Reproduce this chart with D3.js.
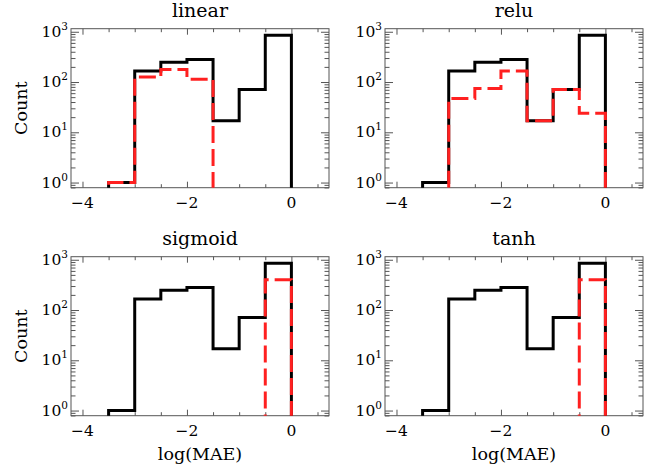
<!DOCTYPE html>
<html><head><meta charset="utf-8">
<script src="https://cdn.jsdelivr.net/npm/d3@7"></script>
<style>body{margin:0;background:#fff} text{font-family:"DejaVu Serif",serif;fill:#000}</style>
</head><body><svg id="c" width="657" height="468"></svg>
<script>
// ---- data ----
const binEdges = [-3.5, -3, -2.5, -2, -1.5, -1, -0.5, 0];
const allCounts = [1, 166, 246, 279, 17, 71, 850];
const panelTitles = ["linear", "relu", "sigmoid", "tanh"];
const linearCounts = [1, 126, 177, 113, 0, 0, 0];
const reluCounts = [0, 47, 74, 166, 17, 71, 24];
const sigmoidCounts = [0, 0, 0, 0, 0, 0, 400];
const tanhCounts = [0, 0, 0, 0, 0, 0, 400];
const subsetCounts = [linearCounts, reluCounts, sigmoidCounts, tanhCounts];
const xMajorTicks = [-4, -2, 0];
const xMinorTicks = [-3.5, -3, -2.5, -1.5, -1, -0.5, 0.5];
const yMajorTicks = [1, 10, 100, 1000];
const yExponents = ["0", "1", "2", "3"];
const xLabel = "log(MAE)", yLabel = "Count";

// ---- layout ----
const svg = d3.select("#c");
const panels = [
  {x0: 71, x1: 329, y0: 28.7, y1: 187.7},
  {x0: 385, x1: 643, y0: 28.7, y1: 187.7},
  {x0: 71, x1: 329, y0: 256.7, y1: 415.7},
  {x0: 385, x1: 643, y0: 256.7, y1: 415.7}
];
const frameColor = "#555";

panels.forEach((p, k) => {
  const x = d3.scaleLinear().domain([-4.22, 0.72]).range([p.x0, p.x1]);
  const y = d3.scaleLog().domain([0.79, 1150]).range([p.y1, p.y0]);
  const g = svg.append("g");

  const cid = "clip" + k;
  svg.append("clipPath").attr("id", cid).append("rect")
    .attr("x", p.x0).attr("y", p.y0).attr("width", p.x1 - p.x0).attr("height", p.y1 - p.y0);

  const yMinor = y.ticks().filter(v => !yMajorTicks.includes(v));
  const mk = (gen, tr) => {
    const a = g.append("g").attr("transform", tr).call(gen);
    a.select(".domain").remove();
    a.selectAll("line").attr("stroke", frameColor);
    return a;
  };
  mk(d3.axisBottom(x).tickValues(xMajorTicks).tickSize(-6).tickFormat(""), `translate(0,${p.y1})`);
  mk(d3.axisBottom(x).tickValues(xMinorTicks).tickSize(-3.5).tickFormat(""), `translate(0,${p.y1})`);
  mk(d3.axisTop(x).tickValues(xMajorTicks).tickSize(-6).tickFormat(""), `translate(0,${p.y0})`);
  mk(d3.axisTop(x).tickValues(xMinorTicks).tickSize(-3.5).tickFormat(""), `translate(0,${p.y0})`);
  mk(d3.axisLeft(y).tickValues(yMajorTicks).tickSize(-8).tickFormat(""), `translate(${p.x0},0)`);
  mk(d3.axisLeft(y).tickValues(yMinor).tickSize(-4.5).tickFormat(""), `translate(${p.x0},0)`);
  mk(d3.axisRight(y).tickValues(yMajorTicks).tickSize(-8).tickFormat(""), `translate(${p.x1},0)`);
  mk(d3.axisRight(y).tickValues(yMinor).tickSize(-4.5).tickFormat(""), `translate(${p.x1},0)`);

  xMajorTicks.forEach(v => {
    g.append("text").attr("x", x(v)).attr("y", p.y1 + 20.5)
      .attr("text-anchor", "middle").attr("font-size", 15.5)
      .text(v < 0 ? "\u2212" + Math.abs(v) : String(v));
  });
  yMajorTicks.forEach((v, i) => {
    const t = g.append("text").attr("x", p.x0 - 3).attr("y", y(v) + 5)
      .attr("text-anchor", "end").attr("font-size", 15.5);
    t.append("tspan").text("10");
    t.append("tspan").attr("font-size", 10.5).attr("dy", -7).text(yExponents[i]);
  });

  g.append("rect").attr("x", p.x0).attr("y", p.y0)
    .attr("width", p.x1 - p.x0).attr("height", p.y1 - p.y0)
    .attr("fill", "none").attr("stroke", frameColor).attr("stroke-width", 1);

  const stepPts = counts => {
    const pts = [[binEdges[0], 0]];
    counts.forEach((c, i) => { pts.push([binEdges[i], c]); pts.push([binEdges[i + 1], c]); });
    pts.push([binEdges[binEdges.length - 1], 0]);
    return pts;
  };
  const line = d3.line().x(d => x(d[0])).y(d => d[1] > 0 ? y(d[1]) : p.y1 + 20);
  const hg = g.append("g").attr("clip-path", `url(#${cid})`);
  hg.append("path").attr("d", line(stepPts(allCounts)))
    .attr("fill", "none").attr("stroke", "#000").attr("stroke-width", 3);
  hg.append("path").attr("d", line(stepPts(subsetCounts[k])))
    .attr("fill", "none").attr("stroke", "#ff2020").attr("stroke-width", 3)
    .attr("stroke-dasharray", "17,6");

  g.append("text").attr("x", (p.x0 + p.x1) / 2).attr("y", p.y0 - 12)
    .attr("text-anchor", "middle").attr("font-size", 19).text(panelTitles[k]);

  if (k % 2 === 0) {
    g.append("text").attr("transform", `translate(${27},${(p.y0 + p.y1) / 2}) rotate(-90)`)
      .attr("text-anchor", "middle").attr("font-size", 17.5).text(yLabel);
  }
  if (k >= 2) {
    g.append("text").attr("x", (p.x0 + p.x1) / 2).attr("y", p.y1 + 44)
      .attr("text-anchor", "middle").attr("font-size", 17.5).text(xLabel);
  }
});
</script></body></html>
